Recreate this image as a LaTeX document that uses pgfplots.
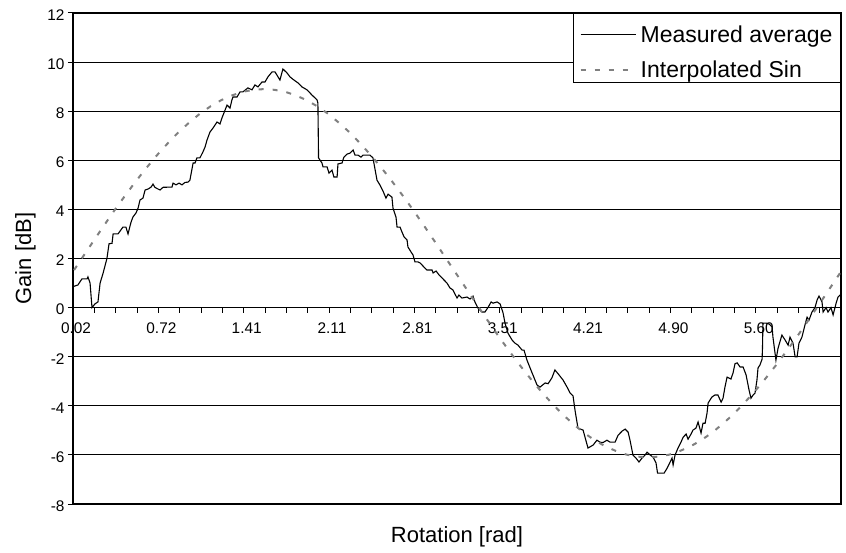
\documentclass[border=0pt]{standalone}
\usepackage{fontspec}
\setmainfont{Liberation Sans}
\usepackage{pgfplots}
\pgfplotsset{compat=1.18}
\definecolor{sinGray}{RGB}{128,128,128}
\newcommand{\tickfont}{\fontsize{15.4bp}{18bp}\selectfont}
\newcommand{\labfont}{\fontsize{22bp}{26bp}\selectfont}
\newcommand{\legfont}{\fontsize{23bp}{27bp}\selectfont}
\newcommand{\legstrut}{\rule{0pt}{24.5bp}}
\begin{document}
\begin{tikzpicture}
% x axis drawn through zero, with the category ticks below it
\begin{axis}[
    width=768bp, height=491bp, scale only axis,
    xmin=0.5, xmax=360.5, ymin=-8, ymax=12,
    axis x line*=middle, axis y line=none, ytick=\empty,
    xtick={1,41,...,321},
    xticklabels={0.02,0.72,1.41,2.11,2.81,3.51,4.21,4.90,5.60},
    major tick length=0bp,
    minor xtick={10.5,20.5,...,350.5},
    minor tick length=5bp,
    tick align=outside,
    axis line style={black, line width=1.2bp},
    xtick style={black, line width=1bp},
    xticklabel style={font=\tickfont, yshift=-12bp, xshift=2bp},
]
\end{axis}
\begin{axis}[
    width=768bp, height=491bp, scale only axis,
    xmin=0.5, xmax=360.5, ymin=-8, ymax=12,
    xtick=\empty,
    ytick={-8,-6,...,12},
    yticklabels={-8,-6,-4,-2,0,2,4,6,8,10,12},
    ytick pos=left,
    tick align=outside,
    major tick length=5bp,
    ytick style={black, line width=1bp},
    yticklabel style={font=\tickfont, yshift=-2bp},
    ymajorgrids,
    major grid style={black, line width=0.9bp},
    axis line style={black, line width=1.6bp},
    xlabel={Rotation [rad]},
    ylabel={Gain [dB]},
    label style={font=\labfont},
    xlabel style={at={(axis description cs:0.5,-0.0387)}, anchor=north},
    ylabel style={at={(axis description cs:-0.044,0.5)}, anchor=south},
    legend cell align=left,
    legend style={at={(1,1)}, anchor=north east, draw=black, line width=1bp,
        fill=white, inner xsep=6bp, inner ysep=3bp, column sep=2bp,
        row sep=6.5bp, font=\legfont,
        nodes={inner sep=2bp, text depth=0bp}},
    legend image code/.code={\draw[#1] (0bp,-4bp) -- (55bp,-4bp);},
]
% measured average (x = category index in degrees, 1..360)
\addplot[black, line width=1.1bp] coordinates {
(1,0.87) (2.8,0.92) (4.7,1.17) (7.1,1.17) (7.5,1.25) (8.5,1.0) (9.4,0.0)
(10.8,0.15) (12.2,0.23) (13.2,1.0) (14.6,1.4) (16.4,2.0) (17.4,2.6) (18.8,2.62)
(19.3,3.0) (21.6,3.0) (23.9,3.28) (25.3,3.28) (26.3,3.0) (27.7,3.48) (28.6,3.69)
(30.0,3.85) (31.0,4.05) (31.9,4.38) (33.3,4.46) (34.3,4.79) (35.7,4.83) (37.1,4.91)
(38.0,5.03) (38.9,4.90) (39.9,4.85) (41.3,4.79) (42.7,4.90) (46.9,4.91) (47.4,5.07)
(48.8,5.00) (50.2,5.07) (51.6,5.00) (53.0,5.10) (54.4,5.11) (55.3,5.19) (56.8,5.89)
(57.7,5.89) (58.6,6.10) (60.0,6.10) (61.4,6.34) (62.4,6.54) (63.3,6.82) (64.7,7.15)
(66.1,7.31) (68.0,7.56) (69.4,7.48) (70.3,7.72) (71.8,8.05) (72.7,8.25) (74.1,8.13)
(75.0,8.46) (75.5,8.58) (77.4,8.58) (78.8,8.79) (80.2,8.79) (82.5,8.95) (84.4,8.87)
(85.8,9.07) (87.2,8.99) (89.1,9.19) (90.5,9.19) (91.9,9.40) (93.8,9.60) (95.2,9.60)
(97.5,9.27) (98.9,9.72) (100.8,9.56) (102.2,9.40) (103.6,9.30) (106.0,9.15)
(107.8,8.99) (110.2,8.87) (112.5,8.66) (114.9,8.46) (115.3,8.33) (115.6,6.10)
(117.2,5.89) (117.7,5.73) (119.6,5.73) (120.5,5.48) (121.9,5.60) (122.8,5.32)
(124.3,5.32) (124.7,5.85) (126.6,5.89) (127.5,6.13) (128.9,6.25) (130.3,6.29)
(131.8,6.42) (132.7,6.21) (134.1,6.21) (135.5,6.13) (136.4,6.21) (139.7,6.21)
(141.1,6.10) (143.0,5.19) (144.4,4.99) (145.8,4.75) (147.2,4.46) (148.2,4.62)
(150.0,4.50) (150.5,4.05) (151.9,3.69) (152.4,3.28) (153.8,3.28) (154.7,3.08)
(155.7,2.88) (157.1,2.75) (157.5,2.47) (159.0,2.26) (159.9,2.14) (160.8,1.86)
(162.2,1.86) (163.2,1.82) (164.6,1.69) (166.4,1.53) (168.8,1.53) (169.3,1.41)
(170.7,1.49) (172.1,1.33) (173.9,1.17) (175.8,1.00) (177.2,0.80) (178.6,0.72)
(180.5,0.39) (181.4,0.51) (182.8,0.39) (185.2,0.43) (186.6,0.35) (188.0,0.47)
(188.9,0.23) (190.3,-0.02) (192.2,-0.18) (193.6,-0.18) (195.0,0.00) (196.5,0.23)
(197.4,0.18) (199.3,0.23) (200.7,0.15) (202.1,-0.22) (203.0,-0.63) (204.4,-1.04)
(206.3,-1.32) (207.7,-1.45) (209.1,-1.53) (211.0,-1.73) (211.9,-1.73) (213.3,-2.14)
(215.7,-2.66) (218.0,-3.15) (219.4,-3.24) (221.8,-3.07) (223.2,-3.10) (225.0,-2.86)
(226.4,-2.54) (228.3,-2.74) (230.2,-2.95) (232.1,-3.24) (233.5,-3.48) (234.9,-3.60)
(235.8,-4.17) (237.2,-4.91) (239.6,-4.99) (241.9,-5.72) (244.3,-5.60) (246.1,-5.40)
(247.5,-5.48) (248.9,-5.50) (250.8,-5.40) (252.2,-5.48) (254.6,-5.48) (256.0,-5.20)
(257.9,-5.03) (259.3,-4.95) (260.7,-5.07) (261.6,-5.40) (263.0,-6.01) (264.4,-6.13)
(265.8,-6.29) (267.2,-6.13) (268.6,-6.01) (269.6,-5.89) (271.0,-6.00) (272.4,-6.09)
(273.8,-6.33) (274.5,-6.74) (277.6,-6.74) (279.0,-6.54) (280.4,-6.29) (281.3,-6.13)
(281.8,-6.41) (282.7,-6.01) (284.1,-5.72) (285.5,-5.48) (286.5,-5.28) (287.9,-5.15)
(288.8,-5.36) (290.2,-5.15) (291.1,-4.99) (292.5,-4.91) (293.5,-4.66) (294.9,-5.11)
(295.8,-4.71) (296.8,-4.71) (297.7,-4.30) (298.2,-3.89) (300.0,-3.64) (301.4,-3.56)
(302.8,-3.56) (304.3,-3.85) (305.2,-3.69) (306.1,-3.24) (307.1,-2.83) (308.9,-2.91)
(309.9,-2.66) (310.8,-2.29) (311.8,-2.25) (313.2,-2.42) (314.6,-2.42) (316.0,-2.74)
(317.4,-3.36) (318.3,-3.69) (319.3,-3.56) (320.2,-3.48) (321.1,-2.95) (321.6,-2.46)
(322.5,-2.34) (323.5,-2.10) (323.7,-1.65) (323.9,-0.63) (325.4,-0.63) (326.8,-0.67)
(328.2,-0.79) (328.6,-1.20) (330.0,-2.14) (331.0,-1.65) (332.8,-1.12) (334.3,-1.32)
(335.7,-1.53) (336.6,-1.20) (338.0,-1.45) (339.0,-2.01) (339.9,-2.01) (340.8,-1.45)
(342.2,-1.20) (343.6,-0.71) (344.6,-0.39) (345.5,-0.51) (346.9,-0.18) (348.3,0.00)
(349.3,0.31) (350.2,0.47) (351.6,0.23) (352.1,-0.18) (353.5,0.00) (354.4,-0.18)
(355.8,0.00) (356.8,-0.30) (358.2,0.18) (359.1,0.43) (360.0,0.51)
};
\addlegendentry{\legstrut Measured average}
% interpolated sine
\addplot[sinGray, line width=2bp, dash pattern=on 5bp off 9bp] coordinates {
(1,1.53) (5,2.05) (10,2.70) (15,3.34) (20,3.97) (25,4.57) (30,5.15) (35,5.70)
(40,6.22) (45,6.70) (50,7.15) (55,7.54) (60,7.90) (65,8.20) (70,8.45) (75,8.64)
(80,8.79) (85,8.87) (90,8.90) (95,8.87) (100,8.79) (105,8.64) (110,8.45) (115,8.20)
(120,7.90) (125,7.54) (130,7.15) (135,6.70) (140,6.22) (145,5.70) (150,5.15)
(155,4.57) (160,3.97) (165,3.34) (170,2.70) (175,2.05) (180,1.40) (185,0.75)
(190,0.10) (195,-0.54) (200,-1.17) (205,-1.77) (210,-2.35) (215,-2.90) (220,-3.42)
(225,-3.90) (230,-4.35) (235,-4.74) (240,-5.10) (245,-5.40) (250,-5.65) (255,-5.84)
(260,-5.99) (265,-6.07) (270,-6.10) (275,-6.07) (280,-5.99) (285,-5.84) (290,-5.65)
(295,-5.40) (300,-5.10) (305,-4.74) (310,-4.35) (315,-3.90) (320,-3.42) (325,-2.90)
(330,-2.35) (335,-1.77) (340,-1.17) (345,-0.54) (350,0.10) (355,0.75) (360,1.40)
};
\addlegendentry{\legstrut Interpolated Sin}
\coordinate (bl) at (rel axis cs:0,0);
\coordinate (tr) at (rel axis cs:1,1);
\end{axis}
\pgfresetboundingbox
\path[use as bounding box] ([xshift=-73bp,yshift=-49bp]bl) rectangle ([xshift=5bp,yshift=13bp]tr);
\end{tikzpicture}
\end{document}
